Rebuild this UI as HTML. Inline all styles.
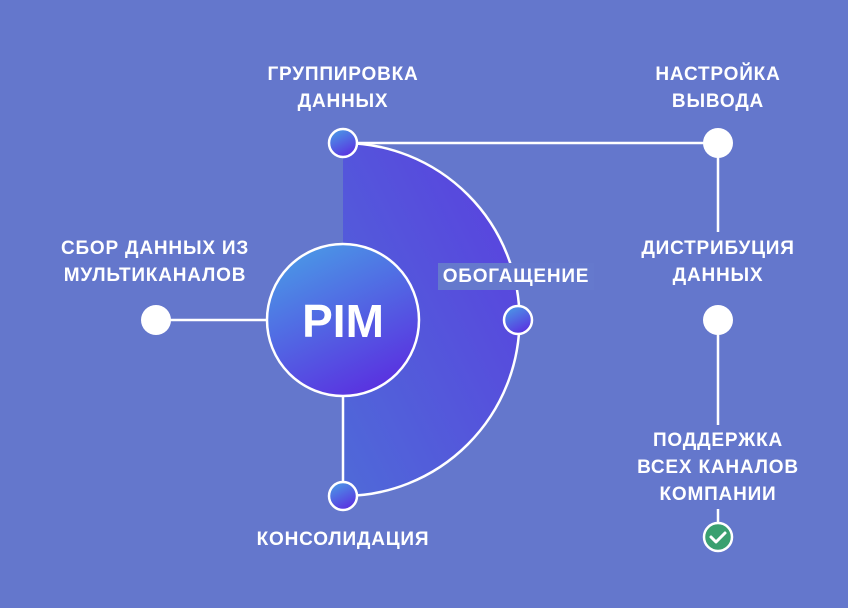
<!DOCTYPE html>
<html><head><meta charset="utf-8"><style>
body{margin:0;width:848px;height:608px;background:#6477cc;overflow:hidden;font-family:"Liberation Sans","DejaVu Sans",sans-serif}
.l{position:absolute;color:#fff;font-weight:bold;font-size:19px;line-height:27px;text-align:center;letter-spacing:0.8px;white-space:nowrap}
</style></head><body>
<svg width="848" height="608" style="position:absolute;left:0;top:0">
<defs>
<linearGradient id="hd" x1="0" y1="1" x2="1" y2="0"><stop offset="0" stop-color="#4f6ad8"/><stop offset="1" stop-color="#5a3fdf"/></linearGradient>
<linearGradient id="pc" x1="0.2" y1="0" x2="0.7" y2="1"><stop offset="0" stop-color="#4a9ae6"/><stop offset="1" stop-color="#5a2fe0"/></linearGradient>
</defs>
<path d="M343 143 A176 176 0 0 1 343 496 Z" fill="url(#hd)"/>
<path d="M343 143 A176 176 0 0 1 343 496" fill="none" stroke="#fff" stroke-width="2.5"/>
<line x1="343" y1="143" x2="718" y2="143" stroke="#fff" stroke-width="2.5"/>
<line x1="718" y1="143" x2="718" y2="232" stroke="#fff" stroke-width="2.5"/>
<line x1="718" y1="320" x2="718" y2="425" stroke="#fff" stroke-width="2.5"/>
<line x1="718" y1="509" x2="718" y2="537" stroke="#fff" stroke-width="2.5"/>
<line x1="156" y1="320" x2="268" y2="320" stroke="#fff" stroke-width="2.5"/>
<line x1="343" y1="396" x2="343" y2="496" stroke="#fff" stroke-width="2.5"/>
<circle cx="343" cy="320" r="76" fill="url(#pc)" stroke="#fff" stroke-width="2.5"/>
<text x="343" y="337" fill="#fff" font-size="46" font-weight="bold" text-anchor="middle" font-family="Liberation Sans,sans-serif">PIM</text>
<circle cx="343" cy="143" r="14" fill="url(#pc)" stroke="#fff" stroke-width="2.5"/>
<circle cx="343" cy="496" r="14" fill="url(#pc)" stroke="#fff" stroke-width="2.5"/>
<circle cx="156" cy="320" r="15" fill="#fff"/>
<circle cx="718" cy="143" r="15" fill="#fff"/>
<circle cx="718" cy="320" r="15" fill="#fff"/>
<circle cx="718" cy="537" r="14" fill="#3aa070" stroke="#fff" stroke-width="2.5"/>
<path d="M711 537 l5 5 l9 -9" fill="none" stroke="#fff" stroke-width="3" stroke-linecap="round" stroke-linejoin="round"/>
</svg>
<div class="l" style="left:193px;top:61px;width:300px">ГРУППИРОВКА<br>ДАННЫХ</div>
<div class="l" style="left:568px;top:61px;width:300px">НАСТРОЙКА<br>ВЫВОДА</div>
<div class="l" style="left:5px;top:235px;width:300px">СБОР ДАННЫХ ИЗ<br>МУЛЬТИКАНАЛОВ</div>
<div class="l" style="left:568px;top:235px;width:300px">ДИСТРИБУЦИЯ<br>ДАННЫХ</div>
<div class="l" style="left:438px;top:263px;width:156px;background:#6579cd">ОБОГАЩЕНИЕ</div>
<svg width="848" height="608" style="position:absolute;left:0;top:0">
<circle cx="518" cy="320" r="14" fill="url(#pc2)" stroke="#fff" stroke-width="2.5"/>
<defs><linearGradient id="pc2" x1="0.2" y1="0" x2="0.7" y2="1"><stop offset="0" stop-color="#4a9ae6"/><stop offset="1" stop-color="#5a2fe0"/></linearGradient></defs>
</svg>
<div class="l" style="left:568px;top:427px;width:300px">ПОДДЕРЖКА<br>ВСЕХ КАНАЛОВ<br>КОМПАНИИ</div>
<div class="l" style="left:193px;top:526px;width:300px">КОНСОЛИДАЦИЯ</div>
</body></html>
